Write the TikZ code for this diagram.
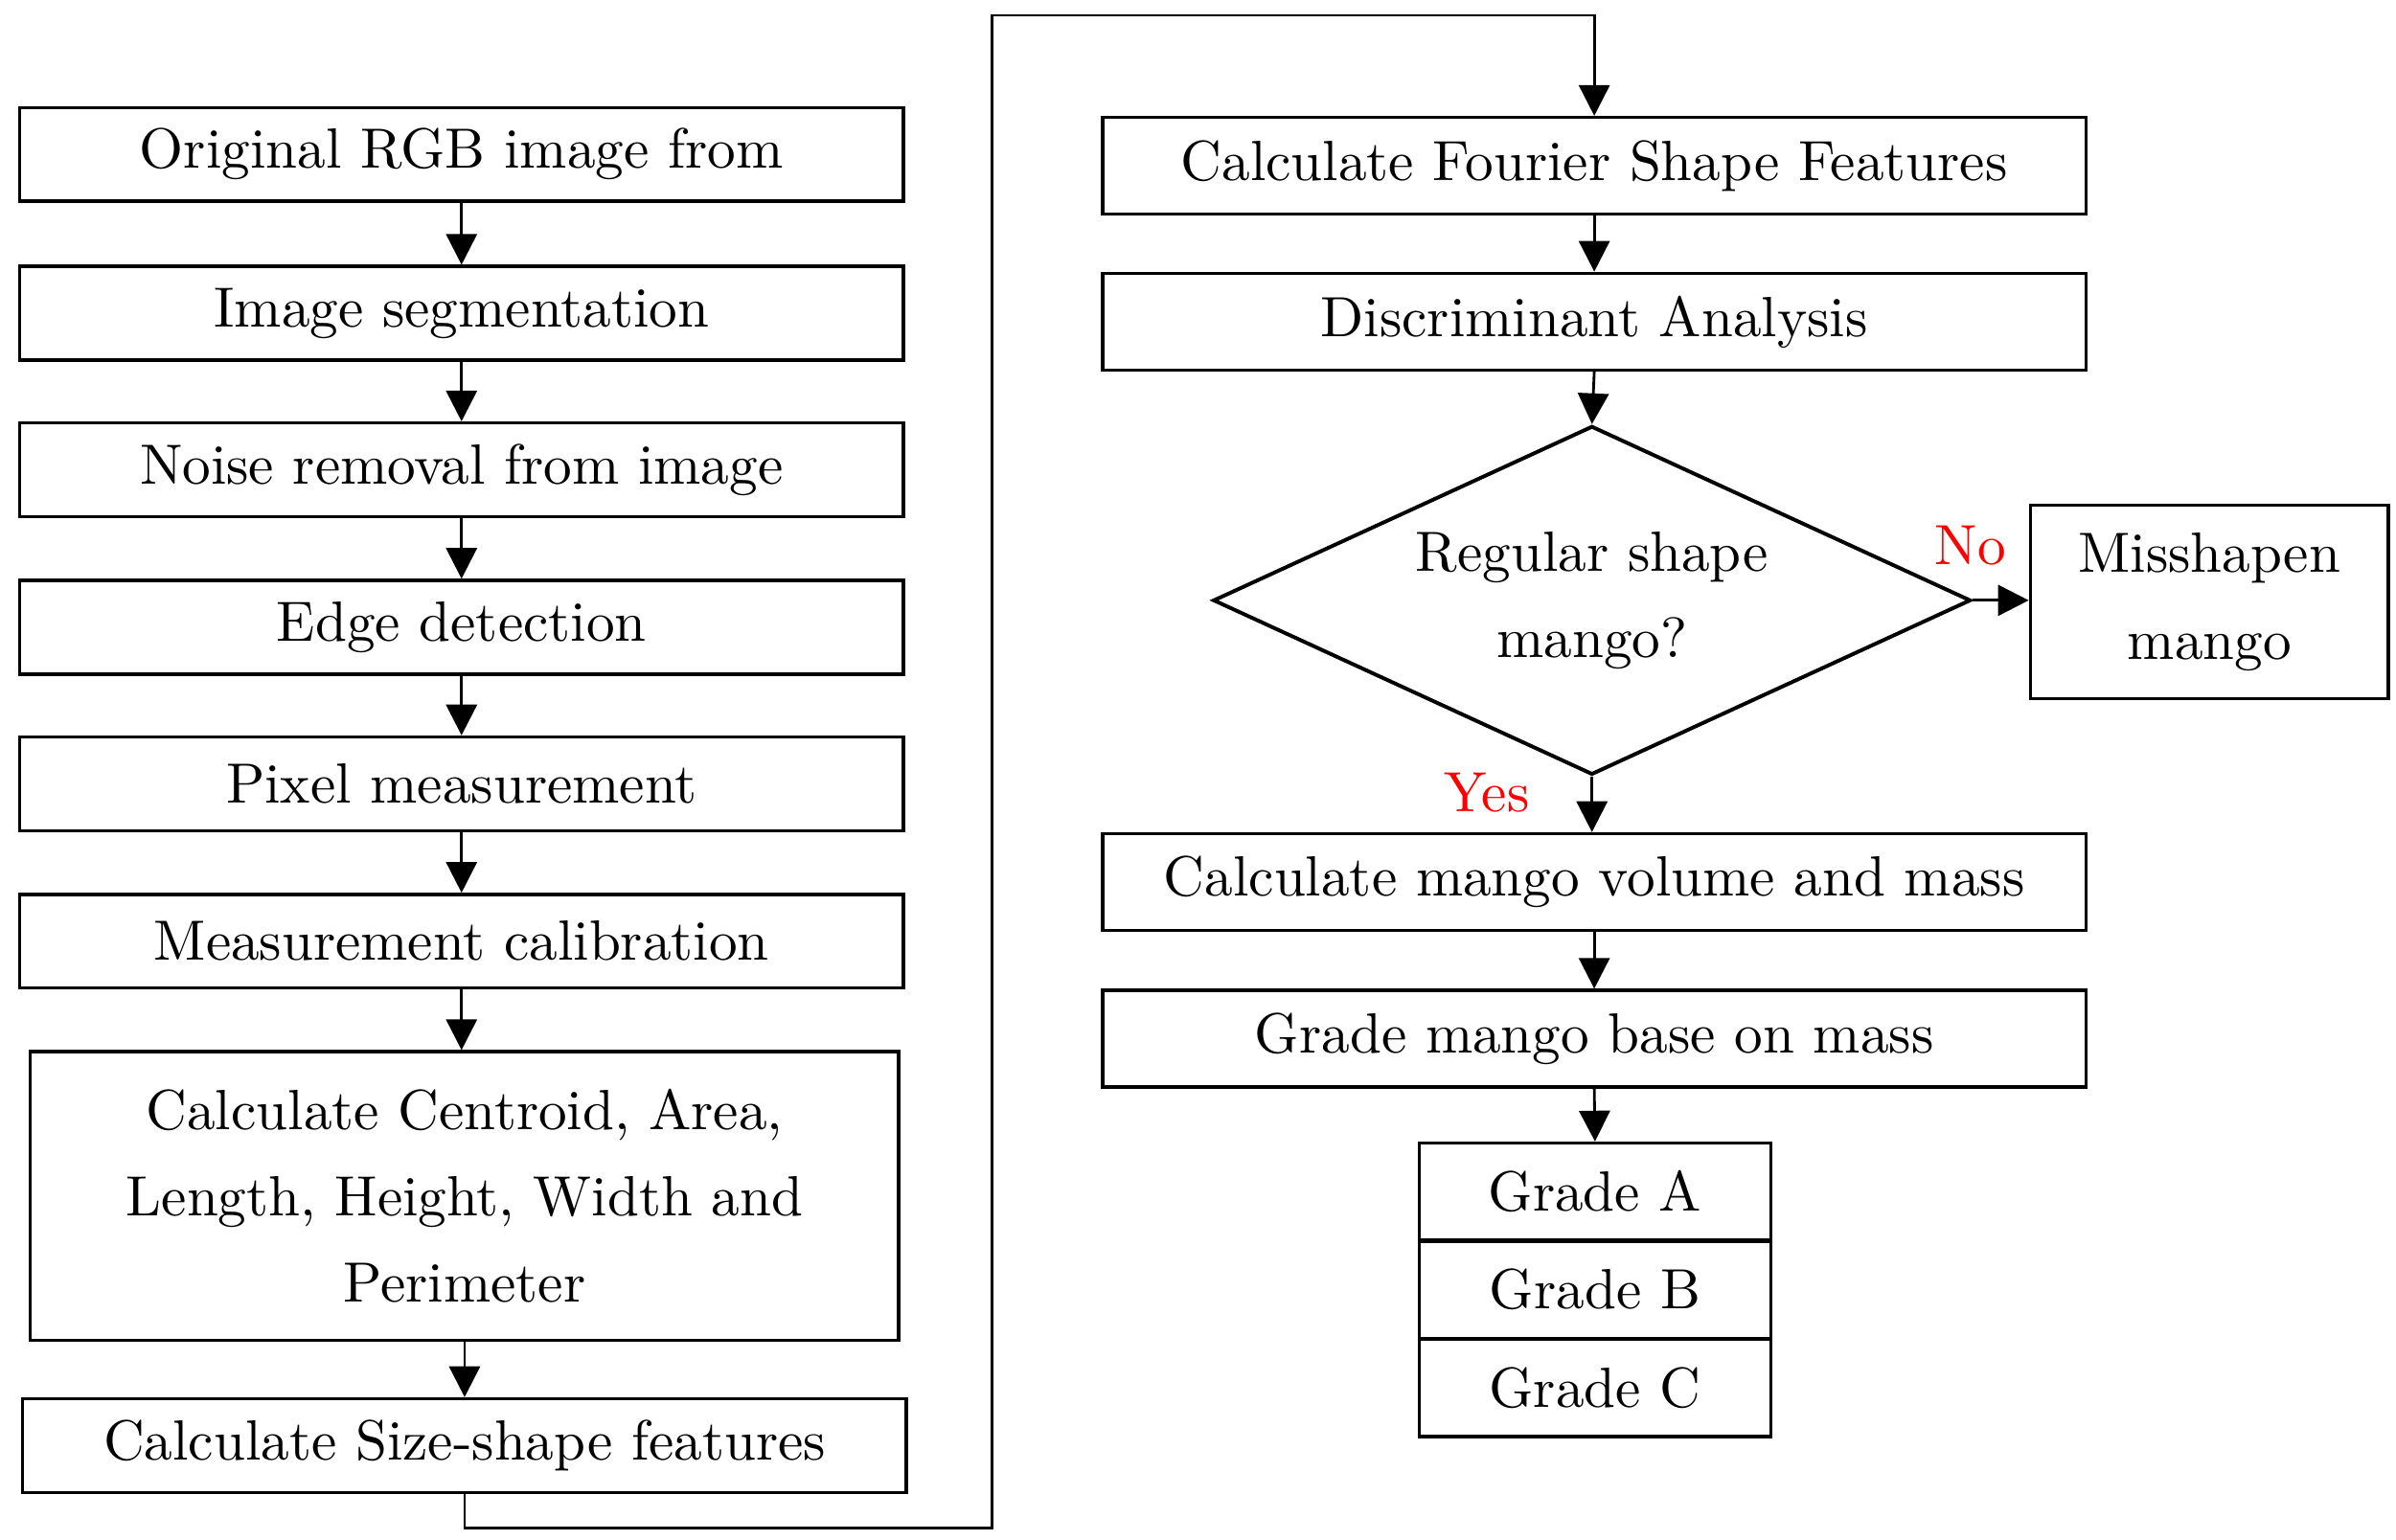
\documentclass[tikz,border=0pt]{standalone}
\usepackage{tikz}
\usetikzlibrary{shapes.geometric,arrows.meta}

\begin{document}
\begin{tikzpicture}[x=0.01cm,y=-0.01cm,
    box/.style={draw,line width=0.6pt,inner sep=0pt,minimum width=5.75cm,minimum height=0.61cm,
      align=center,font=\fontsize{10.5}{16}\selectfont},
    rbox/.style={box,minimum width=6.4cm,minimum height=0.63cm},
    gbox/.style={box,minimum width=2.29cm,minimum height=0.63cm},
    arr/.style={line width=0.5pt,-{Triangle[length=0.2cm,width=0.2cm]}},
    lab/.style={text=red,font=\fontsize{10.5}{13}\selectfont}]
      \useasboundingbox (0,0) rectangle (1560,1002.4);
      % left column
      \node[box] (orig) at (300.5,100.5) {Original RGB image from};
      \node[box] (seg) at (300.5,204) {Image segmentation};
      \node[box] (noise) at (300.5,306) {Noise removal from image};
      \node[box] (edge) at (300.5,408.5) {Edge detection};
      \node[box] (pixel) at (300.5,510.5) {Pixel measurement};
      \node[box] (calib) at (300.5,613) {Measurement calibration};
      \node[box,minimum width=5.65cm,minimum height=1.88cm] (centroid) at (302.5,779)
        {Calculate Centroid, Area,\\Length, Height, Width and\\Perimeter};
      \node[box] (size) at (302.5,941.5) {Calculate Size-shape features};
      \draw[arr] (orig) -- (seg);
      \draw[arr] (seg) -- (noise);
      \draw[arr] (noise) -- (edge);
      \draw[arr] (edge) -- (pixel);
      \draw[arr] (pixel) -- (calib);
      \draw[arr] (calib.south) -- (calib.south|-centroid.north);
      \draw[arr] (centroid.south) -- (centroid.south|-size.north);
      % right column
      \node[rbox] (fourier) at (1038,108) {Calculate Fourier Shape Features};
      \node[rbox] (disc) at (1038,209.5) {Discriminant Analysis};
      \node[draw,shape=diamond,aspect=2.17,line width=0.7pt,inner sep=0pt,minimum width=4.93cm,
        minimum height=2.27cm,align=center,font=\fontsize{10.5}{16}\selectfont] (regular) at (1036.5,391)
        {Regular shape\\mango?};
      \node[box,minimum width=2.33cm,minimum height=1.26cm] (mis) at (1438.5,392) {Misshapen\\mango};
      \node[rbox] (volume) at (1038,574.5) {Calculate mango volume and mass};
      \node[rbox] (grade) at (1038,676.5) {Grade mango base on mass};
      \node[gbox] (ga) at (1038.5,776) {Grade A};
      \node[gbox] (gb) at (1038.5,840) {Grade B};
      \node[gbox] (gc) at (1038.5,904) {Grade C};
      \node[lab] (no) at (1283,355) {No};
      \node[lab] (yes) at (968,516) {Yes};
      \coordinate (turnA) at (646,995);
      \coordinate (turnB) at (646,10);
      \draw[arr] (size.south) |- (turnA) -- (turnB) -| (fourier.north);
      \draw[arr] (fourier) -- (disc);
      \draw[arr] (disc.south) -- (regular.north);
      \draw[arr] (regular.east) -- (mis.west|-regular.east);
      \draw[arr] (regular.south) -- (volume.north-|regular.south);
      \draw[arr] (volume) -- (grade);
      \draw[arr] (grade.south) -- (ga.north);
    \end{tikzpicture}
\end{document}
